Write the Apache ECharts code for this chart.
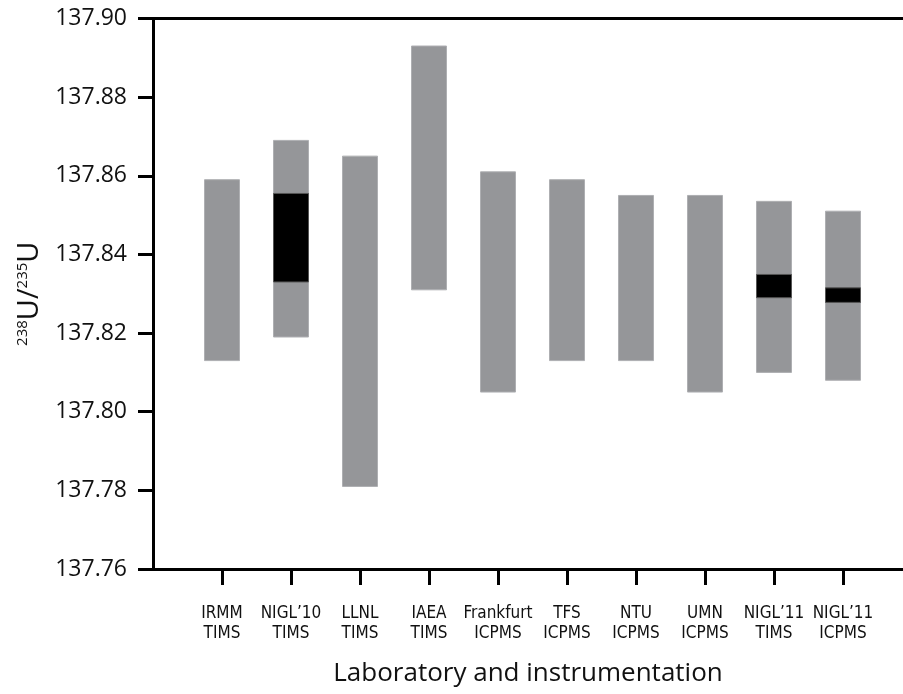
<!DOCTYPE html>
<html>
<head>
<meta charset="utf-8">
<script src="https://cdn.jsdelivr.net/npm/echarts@6/dist/echarts.min.js"></script>
<style>
  html, body { margin: 0; padding: 0; background: #fff; }
  #chart { width: 903px; height: 694px; }
</style>
</head>
<body>
<div id="chart"></div>
<script>
// 实验室 / 仪器
var labs = ['IRMM', "NIGL\u201910", 'LLNL', 'IAEA', 'Frankfurt', 'TFS', 'NTU', 'UMN', "NIGL\u201911", "NIGL\u201911"];
var instruments = ['TIMS', 'TIMS', 'TIMS', 'TIMS', 'ICPMS', 'ICPMS', 'ICPMS', 'ICPMS', 'TIMS', 'ICPMS'];

// 灰色范围
var grayLow  = [137.813, 137.819, 137.781, 137.831, 137.805, 137.813, 137.813, 137.805, 137.810, 137.808];
var grayHigh = [137.859, 137.869, 137.865, 137.893, 137.861, 137.859, 137.855, 137.855, 137.8535, 137.851];

// 黑色范围 (只有 NIGL)
var blackLow  = [null, 137.833, null, null, null, null, null, null, 137.829, 137.8278];
var blackHigh = [null, 137.8555, null, null, null, null, null, null, 137.8349, 137.8315];

var yTicks = [137.76, 137.78, 137.80, 137.82, 137.84, 137.86, 137.88, 137.90];
var xPos = [1, 2, 3, 4, 5, 6, 7, 8, 9, 10];

var chart = echarts.init(document.getElementById('chart'));

var toData = function (lo, hi) {
    var out = [];
    lo.forEach(function (v, i) {
        if (v != null) out.push([xPos[i], v, hi[i]]);
    });
    return out;
};

var makeRender = function (fill, stroke) {
    return function (params, api) {
        var top = api.coord([api.value(0), api.value(2)]);
        var bot = api.coord([api.value(0), api.value(1)]);
        var w = 35;
        return {
            type: 'rect',
            shape: { x: top[0] - w / 2, y: top[1], width: w, height: bot[1] - top[1] },
            style: { fill: fill, stroke: stroke, lineWidth: 1 }
        };
    };
};

var option = {
    animation: false,
    grid: {
        left: 153,
        top: 18.5,
        right: 0,
        height: 550.5,
        outerBoundsMode: 'none'
    },
    xAxis: [{
        type: 'value',
        min: 0,
        max: 750 / 69,
        interval: 1,
        name: 'Laboratory and instrumentation',
        nameLocation: 'middle',
        nameGap: 92,
        nameTextStyle: {
            fontFamily: 'Open Sans',
            fontSize: 26,
            color: '#111'
        },
        axisLine: { lineStyle: { color: '#000', width: 3 } },
        axisTick: {
            length: 16,
            customValues: xPos,
            lineStyle: { color: '#000', width: 3 }
        },
        axisLabel: {
            customValues: xPos,
            margin: 35,
            fontFamily: 'Liberation Sans Narrow, DejaVu Sans Condensed, sans-serif',
            fontSize: 17,
            lineHeight: 20,
            color: '#111',
            formatter: function (v) {
                var i = Math.round(v) - 1;
                return labs[i] + '\n' + instruments[i];
            }
        },
        splitLine: { show: false }
    }, {
        // 上边框
        type: 'value',
        position: 'top',
        min: 0,
        max: 750 / 69,
        axisLine: { show: true, lineStyle: { color: '#000', width: 3 } },
        axisTick: { show: false },
        axisLabel: { show: false },
        splitLine: { show: false }
    }],
    yAxis: {
        type: 'value',
        min: yTicks[0],
        max: yTicks[yTicks.length - 1],
        interval: 0.02,
        name: '{sup|238}{b|U/}{sup|235}{b|U}',
        nameLocation: 'middle',
        nameGap: 108,
        nameTextStyle: {
            fontFamily: 'Open Sans',
            color: '#111',
            rich: {
                b: { fontFamily: 'Open Sans', fontSize: 29, color: '#111' },
                sup: { fontFamily: 'Open Sans', fontSize: 15, color: '#111', verticalAlign: 'top', padding: [0, 0, 12, 0] }
            }
        },
        axisLine: { show: true, lineStyle: { color: '#000', width: 3 } },
        axisTick: { length: 15, lineStyle: { color: '#000', width: 3 } },
        axisLabel: {
            margin: 26,
            fontFamily: 'Open Sans',
            fontSize: 23,
            color: '#111',
            formatter: function (v) { return v.toFixed(2); }
        },
        splitLine: { show: false }
    },
    series: [
        {
            name: 'gray',
            type: 'custom',
            renderItem: makeRender('#959699', '#aeafb2'),
            encode: { x: 0, y: [1, 2] },
            data: toData(grayLow, grayHigh)
        },
        {
            name: 'black',
            type: 'custom',
            renderItem: makeRender('#000', '#555'),
            encode: { x: 0, y: [1, 2] },
            data: toData(blackLow, blackHigh)
        }
    ]
};

chart.setOption(option);
</script>
</body>
</html>
